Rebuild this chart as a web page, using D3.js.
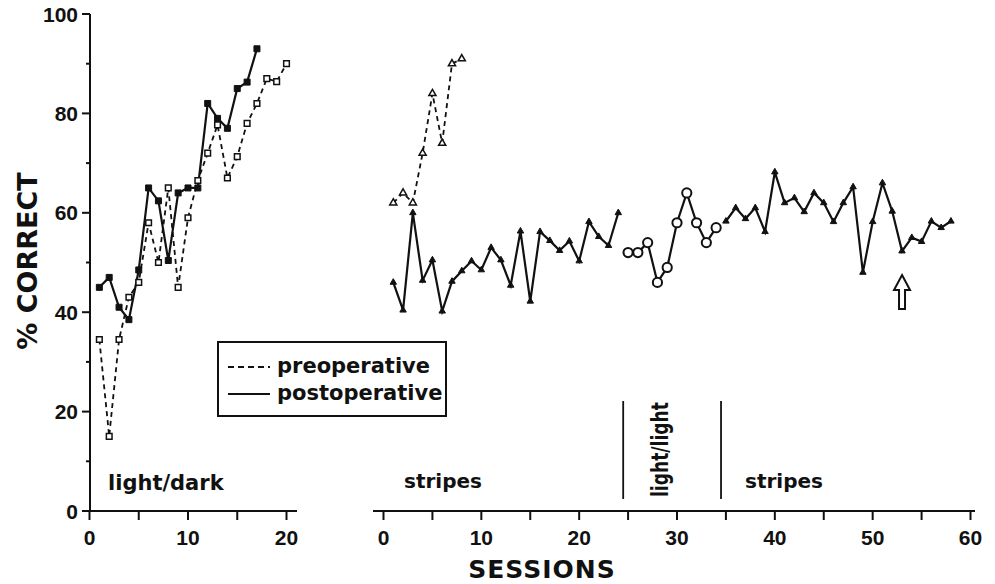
<!DOCTYPE html>
<html>
<head>
<meta charset="utf-8">
<script src="https://cdn.jsdelivr.net/npm/d3@7"></script>
<style>
  body { margin: 0; background: #fff; }
  svg text { font-family: "DejaVu Sans", sans-serif; font-weight: bold; fill: #111; }
  svg text.num { font-family: "Liberation Sans", Arial, sans-serif; }
</style>
</head>
<body>
<svg id="chart" width="995" height="584"></svg>
<script>
// ---- data ----
const leftPre = [34.5, 15, 34.5, 43, 46, 58, 50, 65, 45, 59, 66.5, 72, 77.7, 67, 71.3, 78, 82, 87, 86.4, 90];
const leftPost = [45, 47, 41, 38.5, 48.5, 65, 62.4, 50.4, 64, 65, 65, 82, 79, 77, 85, 86.3, 93];
const rightPre = [62, 64, 62, 72, 84, 74, 90, 91];
const stripesA = [46, 40.4, 60, 46.4, 50.5, 40.2, 46.2, 48.3, 50.3, 48.5, 53, 50.5, 45.4, 56.3, 42.2, 56.2,
  54.4, 52.4, 54.3, 50.3, 58.2, 55.2, 53.4, 60];
const lightLight = [52, 52, 54, 46, 49, 58, 64, 58, 54, 57];
const stripesB = [58.3, 61, 58.8, 61, 56.2, 68.2, 62, 63, 60.2, 64, 62, 58.2, 62, 65.2, 48, 58.2, 66, 60.3,
  52.3, 55, 54.2, 58.3, 57, 58.3];
const yTicks = [0, 20, 40, 60, 80, 100];
const leftXTicks = [0, 10, 20];
const rightXTicks = [0, 10, 20, 30, 40, 50, 60];
const phaseBreaks = [24.5, 34.5];
const arrowSession = 53;

const svg = d3.select("#chart");

// Scales
const y = d3.scaleLinear().domain([0, 100]).range([511, 14]);
const xL = d3.scaleLinear().domain([0, 20]).range([89.5, 286.5]);
const xR = d3.scaleLinear().domain([0, 60]).range([383.5, 970.5]);

const toPts = (vals, start) => vals.map((v, i) => ({ s: start + i, v }));

// Y axis
const yAxis = svg.append("g").attr("transform", "translate(90,0)");
yAxis.append("line").attr("y1", y(100)).attr("y2", y(0)).attr("stroke", "#111").attr("stroke-width", 2);
d3.range(0, 101, 10).forEach((t) => {
  yAxis.append("line")
    .attr("x1", t % 20 === 0 ? -8 : -4).attr("x2", 0)
    .attr("y1", y(t)).attr("y2", y(t))
    .attr("stroke", "#111").attr("stroke-width", 2);
});
yAxis.selectAll("text.ytick").data(yTicks).enter().append("text")
  .attr("class", "num")
  .attr("x", -12).attr("y", (d) => y(d) + 7.5)
  .attr("text-anchor", "end").style("font-size", "21px").text((d) => d);

// X axes
const drawXAxis = (scale, x0, x1, labels, maxS) => {
  const g = svg.append("g").attr("transform", "translate(0,511)");
  g.append("line").attr("x1", x0).attr("x2", x1).attr("stroke", "#111").attr("stroke-width", 2);
  d3.range(0, maxS + 1, 5).forEach((t) => {
    g.append("line").attr("x1", scale(t)).attr("x2", scale(t)).attr("y1", 0).attr("y2", 9)
      .attr("stroke", "#111").attr("stroke-width", 2);
  });
  g.selectAll("text").data(labels).enter().append("text")
    .attr("class", "num")
    .attr("x", (d) => scale(d)).attr("y", 34)
    .attr("text-anchor", "middle").style("font-size", "21px").text((d) => d);
};
drawXAxis(xL, 89, 297, leftXTicks, 20);
drawXAxis(xR, 373, 975, rightXTicks, 60);

// Axis titles
svg.append("text").attr("transform", "translate(37,261) rotate(-90)")
  .attr("text-anchor", "middle").style("font-size", "27px").text("% CORRECT");
svg.append("text").attr("x", 542).attr("y", 578)
  .attr("text-anchor", "middle").style("font-size", "25px").style("letter-spacing", "1px").text("SESSIONS");

// Series helpers
const drawLine = (pts, scale, dashed) => {
  const line = d3.line().x((d) => scale(d.s)).y((d) => y(d.v));
  svg.append("path").attr("d", line(pts)).attr("fill", "none").attr("stroke", "#111")
    .attr("stroke-width", dashed ? 1.8 : 2.2)
    .attr("stroke-dasharray", dashed ? "5,4" : null);
};
const drawMarkers = (pts, scale, type, size, filled) => {
  svg.append("g").selectAll("path").data(pts).enter().append("path")
    .attr("transform", (d) => `translate(${scale(d.s)},${y(d.v)})`)
    .attr("d", d3.symbol().type(type).size(size))
    .attr("fill", filled ? "#111" : "#fff")
    .attr("stroke", "#111").attr("stroke-width", filled ? 1 : 1.5);
};

// Left panel: light/dark
const lPre = toPts(leftPre, 1);
const lPost = toPts(leftPost, 1);
drawLine(lPre, xL, true);
drawLine(lPost, xL, false);
drawMarkers(lPre, xL, d3.symbolSquare, 32, false);
drawMarkers(lPost, xL, d3.symbolSquare, 36, true);

// Right panel
const rPre = toPts(rightPre, 1);
const sA = toPts(stripesA, 1);
const ll = toPts(lightLight, 25);
const sB = toPts(stripesB, 35);
drawLine(rPre, xR, true);
drawLine(sA, xR, false);
drawLine(ll, xR, false);
drawLine(sB, xR, false);
drawMarkers(rPre, xR, d3.symbolTriangle, 22, false);
drawMarkers(sA, xR, d3.symbolTriangle, 18, true);
drawMarkers(sB, xR, d3.symbolTriangle, 18, true);
svg.append("g").selectAll("circle").data(ll).enter().append("circle")
  .attr("cx", (d) => xR(d.s)).attr("cy", (d) => y(d.v)).attr("r", 4.6)
  .attr("fill", "#fff").attr("stroke", "#111").attr("stroke-width", 2);

// Phase dividers
phaseBreaks.forEach((b) => {
  svg.append("line").attr("x1", xR(b)).attr("x2", xR(b)).attr("y1", 401).attr("y2", 499)
    .attr("stroke", "#111").attr("stroke-width", 1.8);
});

// Condition labels
svg.append("text").attr("x", 108).attr("y", 490).style("font-size", "21px").text("light/dark");
svg.append("text").attr("x", 404).attr("y", 488).style("font-size", "20px").text("stripes");
svg.append("text").attr("x", 745).attr("y", 488).style("font-size", "20px").text("stripes");
svg.append("text").attr("transform", "translate(668,497) rotate(-90)")
  .attr("textLength", 95).attr("lengthAdjust", "spacingAndGlyphs")
  .style("font-size", "23px").text("light/light");

// Arrow marking session 53
const ax = xR(arrowSession);
svg.append("path")
  .attr("d", `M${ax},275 L${ax + 8},290 L${ax + 3},290 L${ax + 3},309 L${ax - 3},309 L${ax - 3},290 L${ax - 8},290 Z`)
  .attr("fill", "#fff").attr("stroke", "#111").attr("stroke-width", 2);

// Legend
const lg = svg.append("g").attr("transform", "translate(218,342)");
lg.append("rect").attr("width", 228).attr("height", 74).attr("fill", "#fff")
  .attr("stroke", "#111").attr("stroke-width", 2);
lg.append("line").attr("x1", 10).attr("x2", 52).attr("y1", 25).attr("y2", 25)
  .attr("stroke", "#111").attr("stroke-width", 2).attr("stroke-dasharray", "6,4");
lg.append("line").attr("x1", 10).attr("x2", 52).attr("y1", 52).attr("y2", 52)
  .attr("stroke", "#111").attr("stroke-width", 2);
lg.append("text").attr("x", 59).attr("y", 31).style("font-size", "21px").text("preoperative");
lg.append("text").attr("x", 59).attr("y", 58).style("font-size", "21px").text("postoperative");
</script>
</body>
</html>
